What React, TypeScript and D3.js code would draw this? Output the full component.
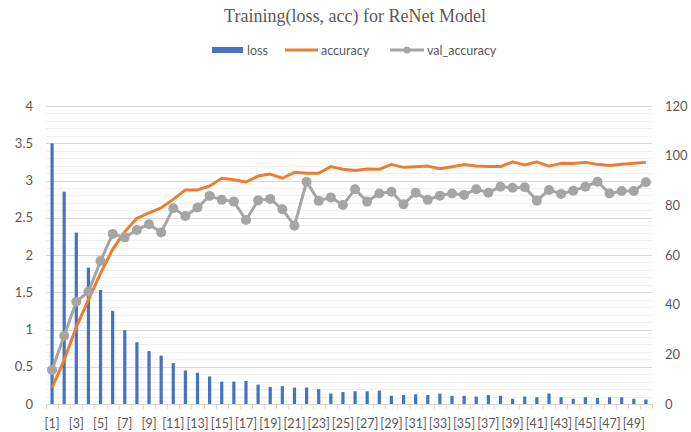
import React, { Component } from "react";
import * as d3 from 'd3';

const epochs = d3.range(1, 51).map(n => '[' + n + ']');

const loss = [3.50, 2.85, 2.30, 1.83, 1.53, 1.25, 0.99, 0.83, 0.71, 0.65,
  0.55, 0.45, 0.42, 0.37, 0.30, 0.30, 0.31, 0.26, 0.23, 0.24,
  0.22, 0.22, 0.20, 0.14, 0.16, 0.17, 0.17, 0.18, 0.11, 0.12,
  0.13, 0.12, 0.14, 0.11, 0.11, 0.10, 0.12, 0.11, 0.07, 0.10,
  0.09, 0.14, 0.09, 0.07, 0.09, 0.08, 0.09, 0.09, 0.07, 0.06];

const accuracy = [6.6, 17.7, 31, 41.9, 52.6, 62.3, 69.4, 74.8, 77, 79,
  82.4, 86.2, 86.2, 87.8, 90.9, 90.3, 89.4, 91.8, 92.6, 90.9,
  93.3, 92.9, 92.9, 95.6, 94.5, 94, 94.6, 94.5, 96.5, 95.3,
  95.5, 95.8, 94.7, 95.5, 96.4, 95.8, 95.6, 95.6, 97.5, 96.3,
  97.5, 95.8, 96.9, 96.8, 97.3, 96.5, 96, 96.5, 96.9, 97.3];

const valAccuracy = [13.7, 27.5, 41.2, 45.2, 57.6, 68.5, 67.1, 70.1, 72.4, 69.1,
  78.8, 75.7, 79.1, 83.8, 82.2, 81.5, 74.1, 82, 82.6, 78.4,
  71.8, 89.5, 81.8, 83.2, 80.1, 86.5, 81.5, 84.8, 85.5, 80.4,
  85.1, 82.2, 83.9, 84.8, 84.2, 86.5, 85.1, 87.5, 87.1, 87.3,
  81.9, 86.2, 84.6, 85.9, 87.5, 89.5, 84.8, 85.8, 85.8, 89.3];

const leftTicks = [0, 0.5, 1, 1.5, 2, 2.5, 3, 3.5, 4];
const rightTicks = [0, 20, 40, 60, 80, 100, 120];

const BLUE = '#4472c4';
const ORANGE = '#ed7d31';
const GRAY = '#a5a5a5';
const TEXT = '#595959';
const FONT = 'Lato, "Noto Sans", sans-serif';

class App extends Component {
  constructor(props) {
    super(props);
    this.viz = React.createRef();
  }

  componentDidMount() {
    this.drawChart();
  }

  drawChart = () => {
    const width = 691, height = 432;
    const margin = {top: 106, right: 39, bottom: 28, left: 46};
    const w = width - margin.left - margin.right;
    const h = height - margin.top - margin.bottom;

    const svg = d3.select(this.viz.current)
      .attr('width', width)
      .attr('height', height)
      .style('position', 'absolute')
      .style('top', 0)
      .style('left', 0)
      .style('background', '#fff');

    svg.append('text')
      .attr('x', 355)
      .attr('y', 22)
      .attr('text-anchor', 'middle')
      .style('font-family', '"Liberation Serif", "Times New Roman", serif')
      .style('font-size', '18px')
      .style('fill', TEXT)
      .text('Training(loss, acc) for ReNet Model');

    // legend
    const lg = svg.append('g').attr('transform', 'translate(0,50)');
    lg.append('rect').attr('x', 212).attr('y', -3).attr('width', 31).attr('height', 6).style('fill', BLUE);
    lg.append('text').attr('x', 247).attr('y', 4.5).text('loss');
    lg.append('line').attr('x1', 285).attr('x2', 318).attr('y1', 0).attr('y2', 0)
      .style('stroke', ORANGE).style('stroke-width', 3);
    lg.append('text').attr('x', 321).attr('y', 4.5).text('accuracy');
    lg.append('line').attr('x1', 390).attr('x2', 424).attr('y1', 0).attr('y2', 0)
      .style('stroke', GRAY).style('stroke-width', 3);
    lg.append('circle').attr('cx', 407).attr('cy', 0).attr('r', 3.5).style('fill', GRAY);
    lg.append('text').attr('x', 427).attr('y', 4.5).text('val_accuracy');
    lg.selectAll('text')
      .style('font-family', FONT)
      .style('font-size', '12.5px')
      .style('fill', TEXT);

    const g = svg.append('g')
      .attr('transform', 'translate(' + margin.left + ',' + margin.top + ')');

    const x = d3.scaleBand()
      .domain(epochs)
      .range([0, w]);
    const yL = d3.scaleLinear().domain([0, 4]).range([h, 0]);
    const yR = d3.scaleLinear().domain([0, 120]).range([h, 0]);

    // grid lines, minor every 0.1 and major every 0.5
    const minor = d3.range(0, 41).map(d => d / 10);
    g.selectAll('.minor')
      .data(minor.filter(d => Math.round(d * 10) % 5 !== 0))
      .enter().append('line')
      .attr('x1', 0).attr('x2', w)
      .attr('y1', d => Math.round(yL(d)) + 0.5)
      .attr('y2', d => Math.round(yL(d)) + 0.5)
      .style('stroke', '#f0f0f0');
    g.selectAll('.major')
      .data(leftTicks.slice(1))
      .enter().append('line')
      .attr('x1', 0).attr('x2', w)
      .attr('y1', d => Math.round(yL(d)) + 0.5)
      .attr('y2', d => Math.round(yL(d)) + 0.5)
      .style('stroke', '#d9d9d9');

    // x axis
    g.append('line')
      .attr('x1', 0).attr('x2', w)
      .attr('y1', h + 0.5).attr('y2', h + 0.5)
      .style('stroke', '#d9d9d9');
    g.selectAll('.xtick')
      .data(epochs.concat(['end']))
      .enter().append('line')
      .attr('x1', (d, i) => Math.round(i * x.step()) + 0.5)
      .attr('x2', (d, i) => Math.round(i * x.step()) + 0.5)
      .attr('y1', h).attr('y2', h + 5)
      .style('stroke', '#d9d9d9');
    g.selectAll('.xlabel')
      .data(epochs.filter((d, i) => i % 2 === 0))
      .enter().append('text')
      .attr('x', d => x(d) + x.bandwidth() / 2)
      .attr('y', h + 24)
      .attr('text-anchor', 'middle')
      .style('font-family', FONT)
      .style('font-size', '12.5px')
      .style('fill', TEXT)
      .text(d => d);

    g.selectAll('.ltick')
      .data(leftTicks)
      .enter().append('text')
      .attr('x', -13)
      .attr('y', d => yL(d) + 4.5)
      .attr('text-anchor', 'end')
      .style('font-family', FONT)
      .style('font-size', '13px')
      .style('fill', TEXT)
      .text(d => d);

    g.selectAll('.rtick')
      .data(rightTicks)
      .enter().append('text')
      .attr('x', w + 13)
      .attr('y', d => yR(d) + 4.5)
      .attr('text-anchor', 'start')
      .style('font-family', FONT)
      .style('font-size', '13px')
      .style('fill', TEXT)
      .text(d => d);

    // loss bars
    const barW = 3.2;
    g.selectAll('.bar')
      .data(loss)
      .enter().append('rect')
      .attr('x', (d, i) => x(epochs[i]) + x.bandwidth() / 2 - barW / 2)
      .attr('y', d => yL(d))
      .attr('width', barW)
      .attr('height', d => h - yL(d))
      .style('fill', BLUE);

    const cx = (d, i) => x(epochs[i]) + x.bandwidth() / 2;

    const accLine = d3.line().x(cx).y(d => yR(d));
    g.append('path')
      .datum(accuracy)
      .attr('d', accLine)
      .style('fill', 'none')
      .style('stroke', ORANGE)
      .style('stroke-width', 3)
      .style('stroke-linejoin', 'round');

    g.append('path')
      .datum(valAccuracy)
      .attr('d', accLine)
      .style('fill', 'none')
      .style('stroke', GRAY)
      .style('stroke-width', 3)
      .style('stroke-linejoin', 'round');

    g.selectAll('.dot')
      .data(valAccuracy)
      .enter().append('circle')
      .attr('cx', cx)
      .attr('cy', d => yR(d))
      .attr('r', 5)
      .style('fill', GRAY);
  }

  render() {
    return (
      <svg ref={this.viz}></svg>
    );
  }
}

export default App;
